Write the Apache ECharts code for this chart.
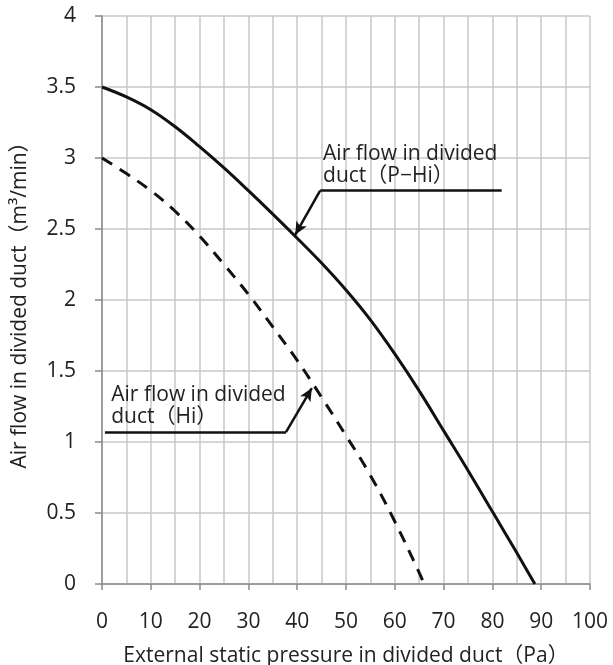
<!DOCTYPE html>
<html><head><meta charset="utf-8">
<script src="https://cdn.jsdelivr.net/npm/echarts@6/dist/echarts.min.js"></script>
<style>html,body{margin:0;padding:0;background:#fff}#c{width:613px;height:665px}</style>
</head><body><div id="c"></div>
<script>
// Data
const pressureP = [0, 5, 10, 15, 20, 25, 30, 35, 40, 45, 50, 55, 60, 65, 70, 75, 80, 85, 88.7];
const flowPHi   = [3.5, 3.43, 3.34, 3.22, 3.08, 2.93, 2.77, 2.605, 2.435, 2.26, 2.07, 1.86, 1.62, 1.36, 1.08, 0.8, 0.51, 0.22, 0];
const pressureH = [0, 5, 10, 15, 20, 25, 30, 35, 40, 45, 50, 55, 60, 65, 66];
const flowHi    = [3.0, 2.89, 2.77, 2.625, 2.45, 2.25, 2.04, 1.81, 1.575, 1.315, 1.045, 0.765, 0.44, 0.08, 0];
const xTicks = [0, 10, 20, 30, 40, 50, 60, 70, 80, 90, 100];
const yTicks = [0, 0.5, 1, 1.5, 2, 2.5, 3, 3.5, 4];
const labelPHi = ['Air flow in divided', 'duct（P−Hi）'];
const labelHi = ['Air flow in divided', 'duct（Hi）'];
// leader paths (data coordinates): [end of underline, knee, arrow tip]
const leaderPHi = [[81.9, 2.77], [44.7, 2.77], [39.6, 2.46]];
const leaderHi  = [[0.6, 1.07], [37.7, 1.07], [43.0, 1.38]];
const textAnchorPHi = [45.3, 2.77];
const textAnchorHi  = [1.9, 1.07];

const FONT = '"Open Sans", "Noto Sans CJK JP", sans-serif';
const chart = echarts.init(document.getElementById('c'));
const gridLine = {lineStyle: {color: '#c8c8c8', width: 1.5}};
function leader(path) {
  return [
    [{coord: path[0], symbol: 'none'}, {coord: path[1], symbol: 'none'}],
    [{coord: path[1], symbol: 'none'}, {coord: path[2], symbol: 'arrow', symbolSize: [9, 13]}]
  ];
}
chart.setOption({
  animation: false,
  grid: {left: 102, right: 23, top: 16, bottom: 81, containLabel: false, outerBoundsMode: 'none'},
  xAxis: {
    type: 'value', min: 0, max: 100, interval: 10,
    name: 'External static pressure in divided duct（Pa）',
    nameLocation: 'middle', nameGap: 62,
    nameTextStyle: {fontFamily: FONT, fontSize: 21, color: '#222'},
    axisLine: {lineStyle: {color: '#8a8a8a', width: 1.5}},
    axisTick: {show: true, length: 6, lineStyle: {color: '#8a8a8a', width: 1.5}},
    axisLabel: {margin: 28, fontFamily: FONT, fontSize: 21, color: '#222',
      formatter: v => xTicks.includes(v) ? String(v) : ''},
    splitLine: {show: true, ...gridLine},
    minorTick: {show: false, splitNumber: 2},
    minorSplitLine: {show: true, ...gridLine}
  },
  yAxis: {
    type: 'value', min: 0, max: 4, interval: 0.5,
    name: 'Air flow in divided duct（m³/min）',
    nameLocation: 'middle', nameGap: 71,
    nameTextStyle: {fontFamily: FONT, fontSize: 21, color: '#222'},
    axisLine: {show: true, lineStyle: {color: '#8a8a8a', width: 1.5}},
    axisTick: {show: true, length: 7, lineStyle: {color: '#8a8a8a', width: 1.5}},
    axisLabel: {margin: 26, fontFamily: FONT, fontSize: 21, color: '#222',
      formatter: v => yTicks.includes(v) ? String(v) : ''},
    splitLine: {show: true, ...gridLine}
  },
  series: [
    {
      name: 'P-Hi', type: 'line', smooth: 0.4, symbol: 'none',
      data: pressureP.map((p, i) => [p, flowPHi[i]]),
      lineStyle: {color: '#111', width: 3},
      markLine: {silent: true, symbol: 'none', label: {show: false},
        lineStyle: {color: '#111', width: 2.5, type: 'solid'},
        data: leader(leaderPHi)}
    },
    {
      name: 'Hi', type: 'line', smooth: 0.4, symbol: 'none',
      data: pressureH.map((p, i) => [p, flowHi[i]]),
      lineStyle: {color: '#111', width: 3, type: [12, 9]},
      markLine: {silent: true, symbol: 'none', label: {show: false},
        lineStyle: {color: '#111', width: 2.5, type: 'solid'},
        data: leader(leaderHi)}
    }
  ]
});
function textBlock(anchor, lines) {
  const p = chart.convertToPixel({gridIndex: 0}, anchor);
  return {
    type: 'text', left: p[0], top: p[1] - 48,
    style: {text: lines.join('\n'), font: '21px ' + FONT, fill: '#222', lineHeight: 22}
  };
}
chart.setOption({graphic: [textBlock(textAnchorPHi, labelPHi), textBlock(textAnchorHi, labelHi)]});
</script></body></html>
